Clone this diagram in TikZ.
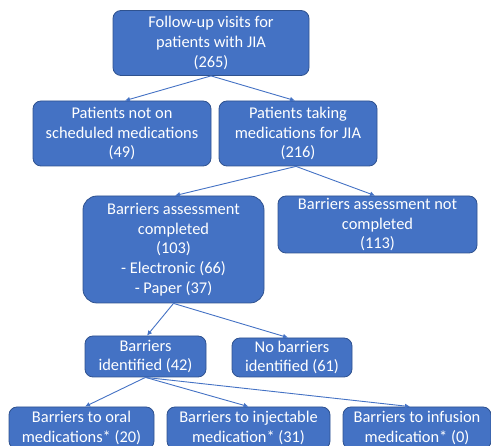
\documentclass[tikz,border=0pt]{standalone}
\usepackage{fontspec}
\setmainfont{Carlito}
\usetikzlibrary{arrows.meta}
\definecolor{boxblue}{HTML}{4472C4}
\definecolor{boxedge}{HTML}{2F528F}
\begin{document}
\begin{tikzpicture}[x=1pt,y=-1pt,
 box/.style={draw=boxedge, fill=boxblue, rounded corners=8pt, text=white, align=center,
   font=\fontsize{16.4}{19.8}\selectfont, inner sep=0pt, line width=0.8pt},
 conn/.style={draw=boxblue, line width=0.9pt, -{Latex[length=5pt,width=5pt]}}]
\clip (0,0) rectangle (491,446);
\node[box, minimum width=196, minimum height=65] (b1) at (211,43) {Follow-up visits for\\patients with JIA\\(265)};
\node[box, minimum width=178, minimum height=65] (b2) at (122,133.5) {Patients not on\\scheduled medications\\(49)};
\node[box, minimum width=158, minimum height=65] (b3) at (298,133.5) {Patients taking\\medications for JIA\\(216)};
\node[box, rounded corners=14pt, minimum width=181, minimum height=107] (b4) at (173.5,249.5) {Barriers assessment\\completed\\(103)\\- Electronic (66)\\- Paper (37)};
\node[box, minimum width=199, minimum height=57] (b5) at (377.5,224.5) {Barriers assessment not\\completed\\(113)};
\node[box, minimum width=121, minimum height=41] (b6) at (145.5,356.5) {Barriers\\identified (42)};
\node[box, minimum width=120, minimum height=39] (b7) at (292,357.5) {No barriers\\identified (61)};
\node[box, minimum width=145, minimum height=42] (b8) at (81.5,428) {Barriers to oral\\medications* (20)};
\node[box, minimum width=163, minimum height=42] (b9) at (248.5,428) {Barriers to injectable\\medication* (31)};
\node[box, minimum width=148, minimum height=42] (b10) at (417,428) {Barriers to infusion\\medication* (0)};
\draw[conn] (b1.south) -- ([xshift=3pt]b2.north);
\draw[conn] (b1.south) -- ([xshift=-3pt]b3.north);
\draw[conn] ([xshift=-2pt]b3.south) -- ([xshift=1.5pt]b4.north);
\draw[conn] ([xshift=-2pt]b3.south) -- ([xshift=-2.5pt]b5.north);
\draw[conn] (b4.south) -- ([xshift=1.5pt]b6.north);
\draw[conn] (b4.south) -- ([xshift=-4pt]b7.north);
\draw[conn] (b6.south) -- ([xshift=3.5pt]b8.north);
\draw[conn] (b6.south) -- (b9.north);
\draw[conn] (b6.south) -- ([xshift=-7pt]b10.north);
\end{tikzpicture}
\end{document}
